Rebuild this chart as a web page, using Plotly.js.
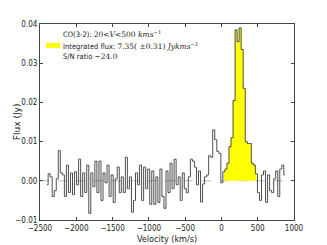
<!DOCTYPE html>
<html><head><meta charset="utf-8">
<script src="https://cdn.plot.ly/plotly-3.0.1.min.js"></script>
<style>html,body{margin:0;padding:0;background:#fff}#chart{width:327px;height:245px}</style>
</head><body><div id="chart"></div>
<script>
// Channel centres (km/s)
const velocity = [
 -2402,-2374,-2346,-2318,-2290,-2262,-2234,-2206,-2178,-2150,
 -2122,-2094,-2066,-2038,-2010,-1982,-1954,-1926,-1898,-1870,
 -1842,-1814,-1786,-1758,-1730,-1702,-1674,-1646,-1618,-1590,
 -1562,-1534,-1506,-1478,-1450,-1422,-1394,-1366,-1338,-1310,
 -1282,-1254,-1226,-1198,-1170,-1142,-1114,-1086,-1058,-1030,
 -1002,-974,-946,-918,-890,-862,-834,-806,-778,-750,
 -722,-694,-666,-638,-610,-582,-554,-526,-498,-470,
 -442,-414,-386,-358,-330,-302,-274,-246,-218,-190,
 -162,-134,-106,-78,-50,-22,6,34,62,90,
 118,146,174,202,230,258,286,314,342,370,
 398,426,454,482,510,538,566,594,622,650,
 678,706,734,762,790,818,846,874
];
// Flux density (Jy)
const flux = [
 -0.001,0.0018,0.001,-0.004,-0.0025,0.0005,0.0077,0.002,0.0015,-0.004,
 0.004,-0.003,0.002,-0.0035,0.0023,-0.001,0.0055,-0.004,0.002,-0.003,
 0.004,-0.0083,0.002,-0.0015,0.005,-0.003,0.005,-0.005,0.002,-0.0005,
 0.004,-0.004,0.0015,-0.0055,0.0005,0.0035,-0.003,0.001,-0.003,0.006,
 -0.002,0.001,-0.008,-0.005,0.002,-0.001,0.004,-0.005,0.0035,-0.002,
 0.003,-0.006,0.0025,-0.006,0.001,-0.0055,0.003,-0.004,-0.007,0.0025,
 -0.003,0.0045,-0.002,0.0055,-0.001,0.001,-0.005,0.002,-0.002,-0.003,
 0.001,0.0055,0.005,0.0035,-0.001,0.0025,-0.0054,-0.0008,0.001,0.0015,
 0.0064,0.006,0.013,0.0105,0.0075,0.007,-0.0005,0.0023,0.003,0.0045,
 0.0087,0.011,0.0205,0.0385,0.0355,0.039,0.0335,0.0236,0.010,0.0095,
 0.0095,0.0045,0.004,0.0018,-0.003,-0.005,0.0015,0.0025,-0.0055,0.0015,
 -0.0025,-0.003,0.0005,0.0025,-0.004,0.003,0.004,0.0015
];
const lineMin = 20, lineMax = 500;
const xTitle = 'Velocity (km/s)';
const yTitle = 'Flux (Jy)';
const legendLines = [
  'CO(3-2): <span style="font-family:DejaVu Serif">20&lt;<i>V</i>&lt;500 <i>kms</i><sup>−1</sup></span>',
  'Integrated flux: <span style="font-family:DejaVu Serif">7.35( ±0.31) <i>Jykms</i><sup>−1</sup></span>',
  'S/N ratio <span style="font-family:DejaVu Serif">∼24.0</span>'
];

const fx = [], fy = [];
velocity.forEach((v, i) => { if (v > lineMin && v < lineMax) { fx.push(v); fy.push(flux[i]); } });

const narrow = '"Liberation Sans Narrow", "DejaVu Sans Condensed", sans-serif';
const traces = [
  {x: fx, y: fy, type: 'scatter', mode: 'lines', line: {shape: 'hvh', width: 0, color: '#ffff00'},
   fill: 'tozeroy', fillcolor: '#ffff00', hoverinfo: 'skip'},
  {x: velocity, y: flux, type: 'scatter', mode: 'lines', line: {shape: 'hvh', width: 0.8, color: '#222'}}
];
const axisCommon = {showgrid: false, zeroline: false, showline: true, linecolor: '#444', linewidth: 1,
  mirror: 'ticks', ticks: 'inside', ticklen: 3, tickcolor: '#444',
  tickfont: {family: narrow, size: 8, color: '#222'}};
const annots = legendLines.map((t, k) => ({
  text: t, xref: 'paper', yref: 'paper', x: 0.083, y: [0.949, 0.888, 0.835][k],
  xanchor: 'left', yanchor: 'middle', showarrow: false,
  font: {family: narrow, size: 7.5, color: '#222'}
}));
annots.push({text: xTitle, xref: 'paper', yref: 'paper', x: 0.5, y: -0.098, xanchor: 'center', yanchor: 'middle',
  showarrow: false, font: {family: narrow, size: 9, color: '#222'}});
annots.push({text: yTitle, xref: 'paper', yref: 'paper', x: -0.09, y: 0.5, xanchor: 'center', yanchor: 'middle',
  textangle: -90, showarrow: false, font: {family: 'DejaVu Sans', size: 9, color: '#222'}});
const layout = {
  width: 327, height: 245,
  margin: {l: 40, r: 33, t: 24, b: 25},
  paper_bgcolor: '#fff', plot_bgcolor: '#fff',
  showlegend: false,
  xaxis: Object.assign({}, axisCommon, {range: [-2500, 1000], dtick: 500, tick0: -2500}),
  yaxis: Object.assign({}, axisCommon, {range: [-0.01, 0.04], dtick: 0.01, tickformat: '.2f'}),
  shapes: [
    {type: 'line', xref: 'paper', x0: 0, x1: 1, yref: 'y', y0: 0, y1: 0,
     line: {color: '#bbb', width: 1, dash: 'dash'}, layer: 'below'},
    {type: 'rect', xref: 'paper', yref: 'paper', x0: 0.024, x1: 0.079, y0: 0.878, y1: 0.903,
     fillcolor: '#ffff00', line: {width: 0}}
  ],
  annotations: annots
};
Plotly.newPlot('chart', traces, layout, {displayModeBar: false, staticPlot: true});
</script></body></html>
